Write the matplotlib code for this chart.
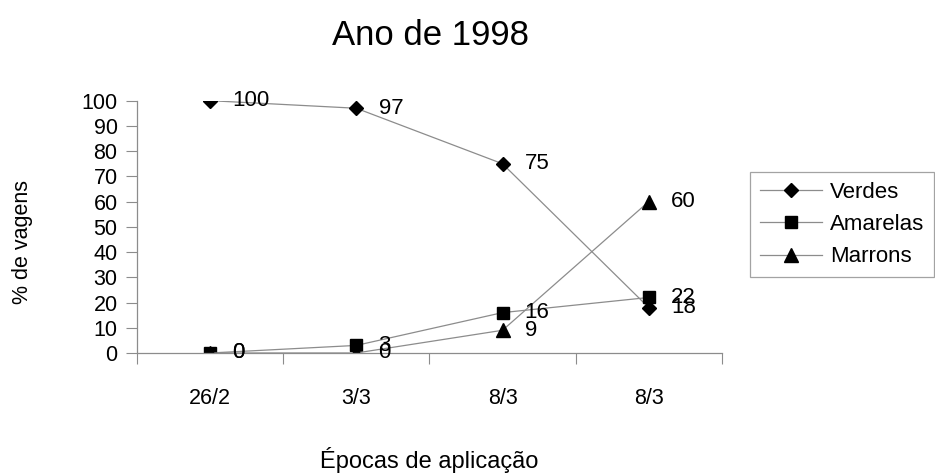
import matplotlib
matplotlib.use('Agg')
import matplotlib.pyplot as plt

plt.rcParams['font.family'] = ['Liberation Sans', 'DejaVu Sans']

categories = ['26/2', '3/3', '8/3', '8/3']
verdes = [100, 97, 75, 18]
amarelas = [0, 3, 16, 22]
marrons = [0, 0, 9, 60]

fig = plt.figure(figsize=(9.35, 4.74), dpi=100)
ax = fig.add_axes([0.1465, 0.2553, 0.6255, 0.5323])

x = list(range(len(categories)))
series = [('Verdes', verdes, 'D', 7), ('Amarelas', amarelas, 's', 9), ('Marrons', marrons, '^', 10)]
for name, vals, mk, ms in series:
    ax.plot(x, vals, color='#8c8c8c', linewidth=0.9, marker=mk, markersize=ms,
            markerfacecolor='black', markeredgecolor='black', label=name)
    for xi, v in zip(x, vals):
        ax.annotate(str(v), (xi, v), xytext=(16, 0), textcoords='offset points',
                    ha='left', va='center', fontsize=16)

ax.set_xlim(-0.5, 3.5)
ax.set_ylim(0, 100)
ax.set_yticks(range(0, 101, 10))
ax.set_xticks([i - 0.5 for i in range(5)])
ax.set_xticklabels([])
ax.set_xticks(x, minor=True)
ax.set_xticklabels(categories, minor=True)
ax.tick_params(axis='x', which='minor', length=0, pad=25, labelsize=15.5)
ax.tick_params(axis='x', which='major', length=8, direction='out', color='#8c8c8c')
ax.tick_params(axis='y', length=8, direction='out', color='#8c8c8c', labelsize=15.5, pad=6)

for s in ['top', 'right']:
    ax.spines[s].set_visible(False)
for s in ['left', 'bottom']:
    ax.spines[s].set_color('#8c8c8c')
    ax.spines[s].set_linewidth(0.9)

fig.text(0.46, 0.925, 'Ano de 1998', ha='center', va='center', fontsize=25)
fig.text(0.024, 0.49, '% de vagens', ha='center', va='center', rotation=90, fontsize=15.5)
fig.text(0.459, 0.03, 'Épocas de aplicação', ha='center', va='center', fontsize=17)

leg = fig.legend(loc='upper left', bbox_to_anchor=(0.802, 0.637), fontsize=16,
                 frameon=True, fancybox=False, edgecolor='#8c8c8c',
                 handlelength=2.8, borderpad=0.45, labelspacing=0.5, handletextpad=0.36,
                 borderaxespad=0)
leg.get_frame().set_linewidth(0.9)

fig.savefig('out.png', dpi=100)
